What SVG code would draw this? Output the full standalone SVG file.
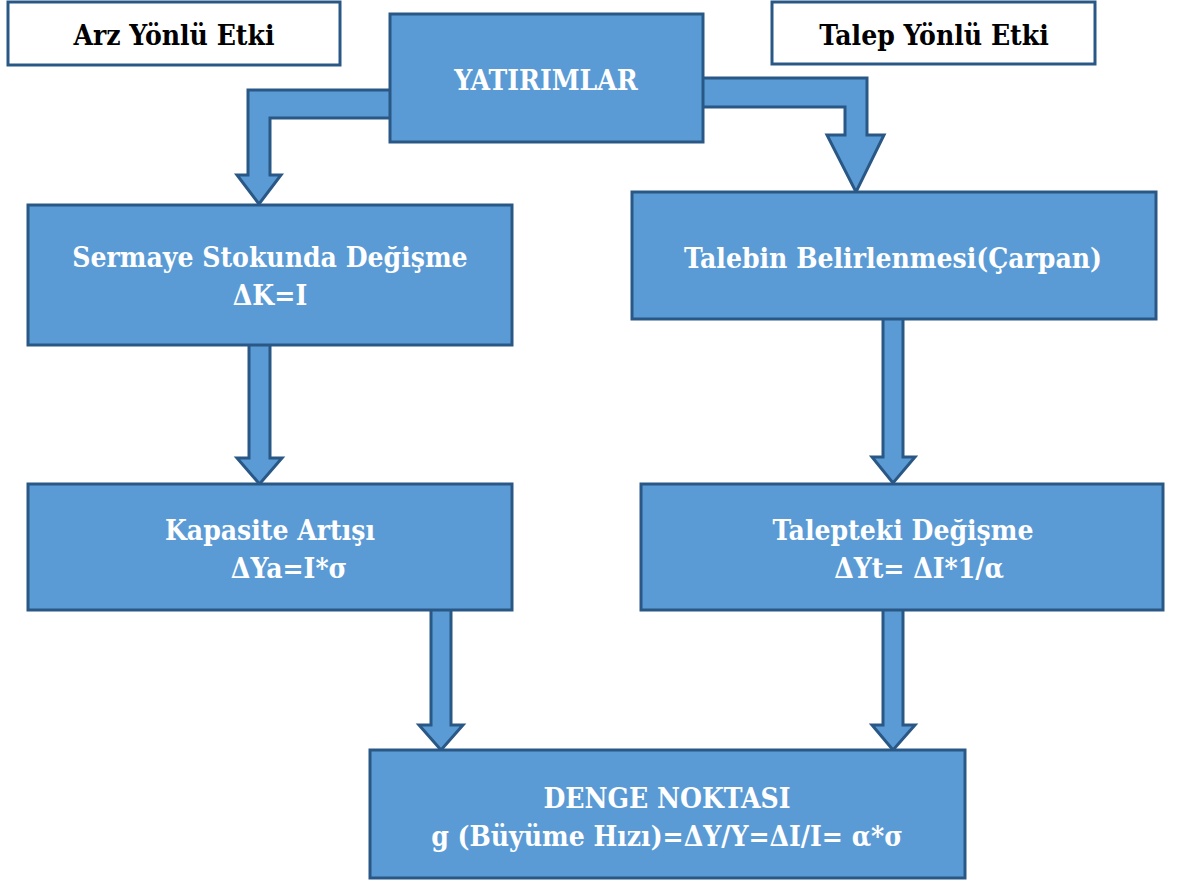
<svg xmlns="http://www.w3.org/2000/svg" width="1179" height="882" viewBox="0 0 1179 882">
<style>
.box{fill:#5B9BD5;stroke:#2A5886;stroke-width:3}
.lbl{fill:#FFFFFF;stroke:#2A5886;stroke-width:3}
.arr{fill:#5B9BD5;stroke:#2A5886;stroke-width:3;stroke-linejoin:miter}
.t{font-family:'DejaVu Serif Condensed','DejaVu Serif',serif;font-weight:bold;font-size:28px;text-anchor:middle}
.w{fill:#FFFFFF}
.k{fill:#000000}
</style>
<rect width="1179" height="882" fill="#FFFFFF"/>
<g id="connectors">
<polygon class="arr" points="392,90 248,90 248,175 237,175 259,204 281,175 270,175 270,118 392,118"/>
<polygon class="arr" points="701,78 867,78 867,135 884,135 856,192 827,135 845,135 845,107 701,107"/>
<polygon class="arr" points="249,343 270,343 270,458 282,458 259.5,484 237,458 249,458"/>
<polygon class="arr" points="431,609 451,609 451,725 463,725 441,750 419,725 431,725"/>
<polygon class="arr" points="883,318 903,318 903,457 915,457 893,483 872,457 883,457"/>
<polygon class="arr" points="883,609 903,609 903,725 915,725 893,750 872,725 883,725"/>
</g>
<g id="arz">
<rect class="lbl" x="8" y="2" width="332" height="63"/>
<text class="t k" x="174" y="45">Arz Yönlü Etki</text>
</g>
<g id="talep">
<rect class="lbl" x="772" y="2" width="323" height="62"/>
<text class="t k" x="934" y="45">Talep Yönlü Etki</text>
</g>
<g id="yatirimlar">
<rect class="box" x="390" y="14" width="313" height="128"/>
<text class="t w" x="546" y="90">YATIRIMLAR</text>
</g>
<g id="sermaye">
<rect class="box" x="28" y="205" width="484" height="140"/>
<text class="t w" x="270" y="267">Sermaye Stokunda Değişme</text>
<text class="t w" x="270" y="305">ΔK=I</text>
</g>
<g id="talebin">
<rect class="box" x="632" y="192" width="524" height="127"/>
<text class="t w" x="893" y="268">Talebin Belirlenmesi(Çarpan)</text>
</g>
<g id="kapasite">
<rect class="box" x="28" y="484" width="484" height="126"/>
<text class="t w" x="270" y="540">Kapasite Artışı</text>
<text class="t w" x="289" y="578">ΔYa=I*σ</text>
</g>
<g id="talepteki">
<rect class="box" x="641" y="484" width="522" height="126"/>
<text class="t w" x="903" y="540">Talepteki Değişme</text>
<text class="t w" x="919" y="578">ΔYt= ΔI*1/α</text>
</g>
<g id="denge">
<rect class="box" x="370" y="750" width="595" height="128"/>
<text class="t w" x="667" y="808">DENGE NOKTASI</text>
<text class="t w" x="667" y="846">g (Büyüme Hızı)=ΔY/Y=ΔI/I= α*σ</text>
</g>
</svg>
